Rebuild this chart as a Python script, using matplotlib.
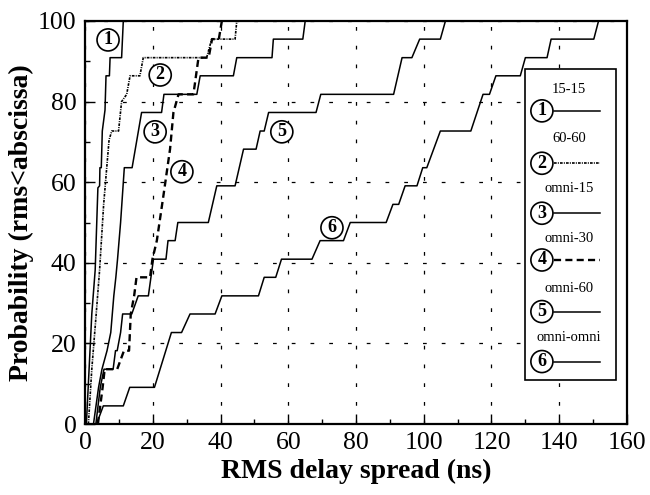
import matplotlib
matplotlib.use("Agg")
import matplotlib.pyplot as plt
from matplotlib.patches import Rectangle
from matplotlib.lines import Line2D

plt.rcParams["font.family"] = ["Liberation Serif", "DejaVu Serif"]

# RMS delay spread CDFs, one per antenna pairing
names = ["15-15", "60-60", "omni-15", "omni-30", "omni-60", "omni-omni"]

x1 = [0.4, 1.2, 2.0, 3.0, 3.8, 4.3, 4.4, 4.8, 5.1, 5.9, 6.2, 7.2, 7.4, 10.8, 11.3]
y1 = [0, 13.6, 27.3, 38.2, 58.6, 59.1, 63.6, 63.6, 72.7, 77.9, 86.4, 86.4, 90.9, 90.9, 100]

x2 = [1.0, 2.0, 3.3, 4.3, 5.5, 7.1, 7.9, 9.9, 10.8, 12.3, 13.3, 16.2, 17.2, 35.9, 37.4, 44.3, 44.8]
y2 = [0, 13.6, 27.3, 38.2, 54.5, 70.5, 72.7, 72.7, 80.0, 81.8, 86.4, 86.4, 90.9, 90.9, 95.5, 95.5, 100]

x3 = [2.5, 4.0, 5.0, 6.5, 7.6, 8.5, 9.1, 9.6, 10.5, 11.6, 13.9, 16.7, 22.6, 23.3, 33.0,
      34.0, 43.8, 44.8, 55.2, 55.6, 64.3, 65.0]
y3 = [0, 9.1, 13.6, 18.2, 22.7, 31.8, 36.4, 40.9, 50.0, 63.6, 63.6, 77.3, 77.3, 81.8, 81.8,
      86.4, 86.4, 90.9, 90.9, 95.5, 95.5, 100]

x4 = [3.8, 5.2, 5.8, 9.5, 11.5, 13.0, 13.5, 14.5, 15.2, 19.2, 19.9, 21.2, 23.1, 25.1, 26.1,
      27.6, 32.0, 33.5, 36.5, 37.5, 39.5, 40.4]
y4 = [0, 9.1, 13.6, 13.6, 18.2, 18.2, 27.3, 31.8, 36.4, 36.4, 40.9, 45.5, 56.4, 68.2, 77.3,
      81.8, 81.8, 90.9, 90.9, 95.5, 95.5, 100]

x5 = [3.2, 4.5, 5.6, 8.3, 9.0, 9.5, 10.5, 11.1, 13.8, 15.7, 18.7, 20.2, 23.9, 24.5, 26.6,
      27.4, 36.4, 38.9, 44.3, 46.8, 50.5, 51.7, 52.9, 54.2, 68.2, 69.6, 91.1, 93.6, 96.5,
      98.8, 104.9, 106.4]
y5 = [0, 9.1, 13.6, 13.6, 18.2, 18.2, 22.7, 27.3, 27.3, 31.8, 31.8, 40.9, 40.9, 45.5, 45.5,
      50.0, 50.0, 59.1, 59.1, 68.2, 68.2, 72.7, 72.7, 77.3, 77.3, 81.8, 81.8, 90.9, 90.9,
      95.5, 95.5, 100]

x6 = [3.4, 5.4, 11.3, 13.2, 20.5, 25.5, 28.5, 31.0, 38.4, 40.4, 51.2, 52.9, 56.3, 58.0,
      67.0, 69.4, 76.3, 78.3, 88.9, 90.9, 92.6, 94.5, 98.0, 99.7, 100.9, 104.9, 113.9,
      117.5, 119.4, 121.3, 128.5, 130.0, 136.4, 137.6, 150.2, 151.6]
y6 = [0, 4.5, 4.5, 9.1, 9.1, 22.7, 22.7, 27.3, 27.3, 31.8, 31.8, 36.4, 36.4, 40.9, 40.9,
      45.5, 45.5, 50.0, 50.0, 54.5, 54.5, 59.1, 59.1, 63.6, 63.6, 72.7, 72.7, 81.8, 81.8,
      86.4, 86.4, 90.9, 90.9, 95.5, 95.5, 100]

# where the circled numbers sit on the curves (data coords)
label_x = [6.8, 22.2, 20.7, 28.6, 58.1, 72.9]
label_y = [95.3, 86.6, 72.5, 62.6, 72.5, 48.7]

xs = [x1, x2, x3, x4, x5, x6]
ys = [y1, y2, y3, y4, y5, y6]
styles = [
    dict(ls="-", lw=1.1),
    dict(ls=(0, (1.6, 0.7, 0.6, 0.7)), lw=1.2),
    dict(ls="-", lw=1.1),
    dict(ls=(0, (3.0, 1.8)), lw=1.7),
    dict(ls="-", lw=1.1),
    dict(ls="-", lw=1.1),
]

fig = plt.figure(figsize=(6.5, 4.95), dpi=100)
ax = fig.add_axes((0.1308, 0.1434, 0.8338, 0.8142))

for x, y, st in zip(xs, ys, styles):
    ax.plot(x, y, color="black", **st)

circ = dict(boxstyle="circle,pad=0.14", fc="white", ec="black", lw=1.2)
for i, (lx, ly) in enumerate(zip(label_x, label_y)):
    ax.text(lx, ly, str(i + 1), ha="center", va="center", fontsize=13, fontweight="bold",
            zorder=5, bbox=circ)

ax.set_xlim(0, 160)
ax.set_ylim(0, 100)
ax.set_xticks(range(0, 161, 20))
ax.set_yticks(range(0, 101, 20))
ax.set_xticks(range(10, 160, 20), minor=True)
ax.set_yticks(range(10, 100, 20), minor=True)
ax.tick_params(which="major", direction="in", length=7, width=1.0, labelsize=18.5, pad=6)
ax.tick_params(which="minor", direction="in", length=3.5, width=1.0)
ax.grid(True, which="major", color="black", lw=0.9, ls=(0, (3, 12)))
for sp in ax.spines.values():
    sp.set_linewidth(1.6)

ax.set_xlabel("RMS delay spread (ns)", fontsize=20, fontweight="bold", labelpad=3)
ax.set_ylabel("Probability (rms<abscissa)", fontsize=20, fontweight="bold", labelpad=3)

# hand-drawn legend box on the right
ax.add_patch(Rectangle((0.812, 0.109), 0.168, 0.771, transform=ax.transAxes,
                       fc="white", ec="black", lw=1.2, zorder=6))
text_y = [0.829, 0.709, 0.585, 0.461, 0.337, 0.214]
circ_y = [0.777, 0.647, 0.523, 0.407, 0.279, 0.155]
for i, name in enumerate(names):
    ax.text(0.893, text_y[i], name, transform=ax.transAxes, ha="center", va="center",
            fontsize=10.5, zorder=7)
    ax.text(0.843, circ_y[i], str(i + 1), transform=ax.transAxes, ha="center", va="center",
            fontsize=13, fontweight="bold", zorder=8, bbox=circ)
    ax.add_line(Line2D([0.866, 0.950], [circ_y[i], circ_y[i]], transform=ax.transAxes,
                       color="black", zorder=7, **styles[i]))

fig.savefig("out.png", dpi=100)
